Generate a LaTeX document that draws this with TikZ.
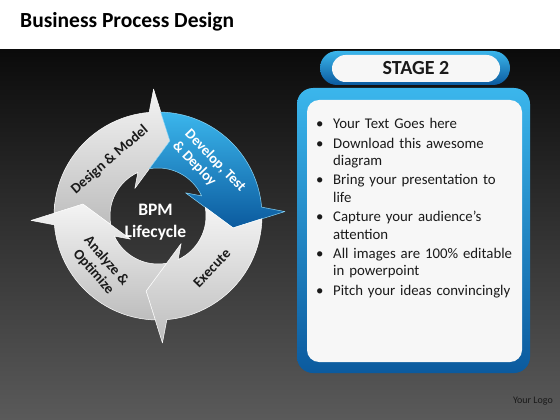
\documentclass[tikz,border=0pt]{standalone}
\usepackage{fontspec}
\setmainfont{Carlito}

\definecolor{bgtop}{HTML}{0B0B0B}
\definecolor{bgbottom}{HTML}{5A5A5A}
\definecolor{bluelight}{HTML}{3BB6EC}
\definecolor{bluedark}{HTML}{0B5A9E}
\definecolor{graylight}{HTML}{F4F4F4}
\definecolor{graydark}{HTML}{BDBDBD}
\definecolor{inktext}{HTML}{1A1A1A}

% one arrow of the ring, #1 = start angle, it ends 90 degrees further on
\newcommand{\bpmarrow}[2]{%
  \pgfmathsetmacro{\bpmend}{#1-90}
  \path[#2] ({#1-3.5}:104pt) arc[start angle={#1-3.5}, end angle={\bpmend+2.9}, radius=104pt]
    -- (\bpmend:127pt) -- ({\bpmend-11}:76pt) -- ({\bpmend+38}:36pt) -- ({\bpmend+22.8}:48pt)
    arc[start angle={\bpmend+22.8}, end angle={#1+8.4}, radius=48pt]
    -- ({#1-11}:76pt) -- cycle;
}

\newcommand{\panelitem}[1]{\par\hangindent=17pt\hangafter=1\noindent
  \makebox[17pt][l]{\rule{0pt}{12pt}\textbullet}#1}

\tikzset{
  graystep/.style={top color=graylight, bottom color=graydark, draw=white, line width=0.5pt, line join=round},
  bluestep/.style={top color=bluelight, bottom color=bluedark, draw=bluelight!60!white, line width=0.5pt, line join=round},
  seglabel/.style={font=\fontsize{14.5}{17}\selectfont\bfseries, text=inktext, align=center, inner sep=0pt},
  bluebox/.style={top color=bluelight, bottom color=bluedark, inner sep=0pt, outer sep=0pt},
  whitebox/.style={fill=white!97!black, inner sep=0pt, outer sep=0pt},
}

\begin{document}
\begin{tikzpicture}[x=1pt,y=-1pt]
  \useasboundingbox (0,0) rectangle (560,420);
  \fill[white] (0,0) rectangle (560,50);
  \shade[top color=bgtop, bottom color=bgbottom] (0,50) rectangle (560,420);

  \node[anchor=base west, inner sep=0pt, font=\fontsize{21.5}{26}\selectfont\bfseries] (title)
    at (20,28) {Business Process Design};

  % the cycle
  \begin{scope}[shift={(158,216)}, x=1pt, y=1pt]
    \bpmarrow{182}{graystep}
    \bpmarrow{92}{bluestep}
    \bpmarrow{2}{graystep}
    \bpmarrow{-88}{graystep}
    \node[seglabel, rotate=40.6] (design) at (130.6:74pt) {Design \& Model};
    \node[seglabel, rotate=-46, text=white, align=left] (develop) at (44:71pt) {Develop, Test\\\& Deploy};
    \node[seglabel, rotate=46] (execute) at (-44:75pt) {Execute};
    \node[seglabel, rotate=-49] (analyze) at (-139:77pt) {Analyze \&\\Optimize};
    \node[font=\fontsize{17.5}{22}\selectfont\bfseries, text=white, align=center, inner sep=0pt]
      (bpm) at (-2.5pt,-6.5pt) {BPM\\Lifecycle};
  \end{scope}

  % stage panel
  \node[bluebox, minimum width=190pt, minimum height=34pt, rounded corners=17pt] (stageframe) at (415,68) {};
  \node[whitebox, minimum width=168pt, minimum height=27pt, rounded corners=13.5pt,
    font=\fontsize{20}{24}\selectfont\bfseries, text=inktext] (stage) at (416,68.5) {STAGE 2};
  \node[bluebox, minimum width=233pt, minimum height=285pt, rounded corners=16pt] (panel) at (413.5,230.5) {};
  \node[whitebox, minimum width=215pt, minimum height=262pt, rounded corners=12pt] (sheet) at (414.5,231) {};

  \node[anchor=north west, text width=205pt, inner sep=0pt, text=inktext,
    font=\fontsize{14.8}{17.3}\selectfont] (bullets) at (316,109) {%
    \setlength{\parskip}{2.2pt}%
    \panelitem{Your Text Goes here}
    \panelitem{Download this awesome\newline diagram}
    \panelitem{Bring your presentation to\newline life}
    \panelitem{Capture your audience’s\newline attention}
    \panelitem{All images are 100\% editable\newline in powerpoint}
    \panelitem{Pitch your ideas convincingly}\par};

  \node[anchor=base east, inner sep=0pt, font=\fontsize{10}{12}\selectfont, text=inktext] (logo)
    at (553,403) {Your Logo};
\end{tikzpicture}
\end{document}
